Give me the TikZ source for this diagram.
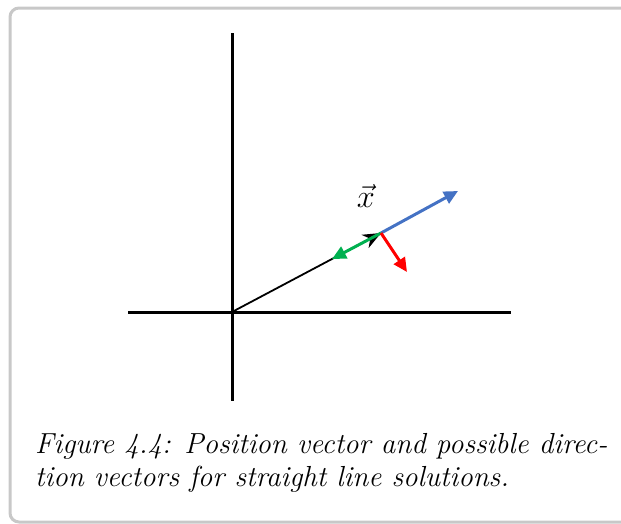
\documentclass[tikz,border=0pt]{standalone}
\usetikzlibrary{arrows.meta}
\definecolor{framegray}{RGB}{200,200,200}
\definecolor{vecblue}{RGB}{68,114,196}
\definecolor{vecgreen}{RGB}{0,176,80}
\definecolor{vecred}{RGB}{255,0,0}
\tikzset{
  axis/.style={line width=3pt},
  dirvec/.style={line width=3pt,-{Triangle[length=14pt,width=13pt]}},
  captxt/.style={anchor=base west,inner sep=0pt,font=\fontsize{29}{33}\selectfont\itshape},
}
\begin{document}
\begin{tikzpicture}[x=1pt,y=-1pt]
    \useasboundingbox (0,0) rectangle (621,523);
    \draw[framegray,line width=3pt,rounded corners=9pt] (10,8) rectangle (660,522);
    \coordinate (O) at (232,312);
    \coordinate (P) at (381,233);
    \coordinate (Ab) at (458,191);
    \coordinate (Ag) at (332,259);
    \coordinate (Ar) at (407,272);
    \draw[axis] (232,33) -- (232,401);
    \draw[axis] (128,312) -- (511,312);
    \draw[line width=1.8pt,-{Stealth[length=18pt,width=15pt]}] (O) -- (P);
    \draw[dirvec,vecblue] (P) -- (Ab);
    \draw[dirvec,vecgreen] (P) -- (Ag);
    \draw[dirvec,vecred] (P) -- (Ar);
    \node[font=\Huge,scale=1.3] (xlab) at (366,196) {$\vec{x}$};
    \node[captxt] (cap1) at (35,453) {Figure 4.4: Position vector and possible direc-};
    \node[captxt] (cap2) at (35,486) {tion vectors for straight line solutions.};
\end{tikzpicture}
\end{document}
